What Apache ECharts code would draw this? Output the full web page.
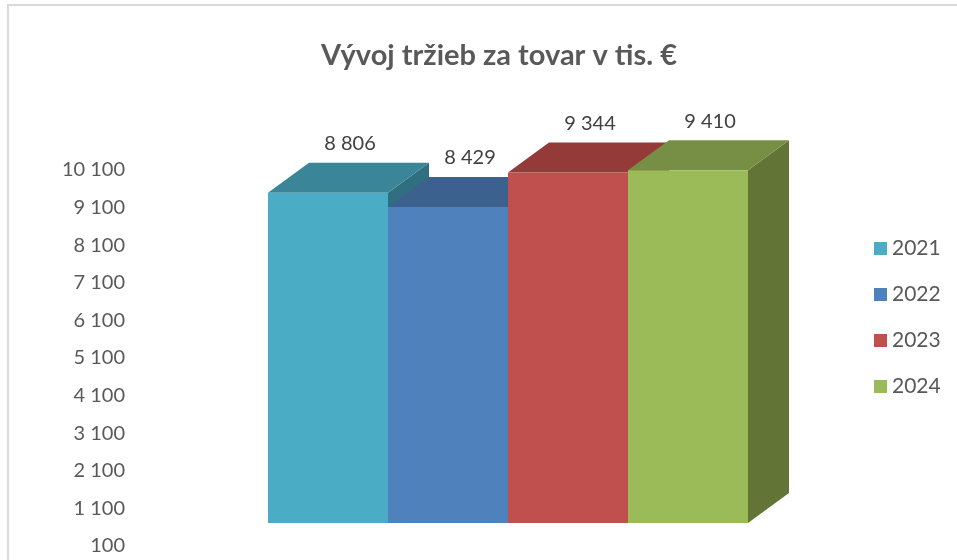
<!DOCTYPE html>
<html lang="sk">
<head>
<meta charset="UTF-8">
<title>Vývoj tržieb</title>
<script src="https://cdn.jsdelivr.net/npm/echarts@6.0.0/dist/echarts.min.js"></script>
<style>
  body { margin: 0; padding: 0; background: #fff; }
  #chart { width: 957px; height: 560px; }
</style>
</head>
<body>
<div id="chart"></div>
<script>
// data
var years = ['2021', '2022', '2023', '2024'];
var sales = [8806, 8429, 9344, 9410];
var frontColors = ['#4BACC6', '#4F81BD', '#C0504D', '#9BBB59'];
var topColors = ['#3A8597', '#3C618E', '#943B39', '#768F45'];
var sideColors = ['#306F80', '#33537A', '#7D3230', '#627537'];
// value axis as drawn on the left
var tickMin = 100;
var tickMax = 10100;
var tickStep = 1000;

var depthX = 41, depthY = 30;   // 3d depth of the columns

function fmt(v) {
  return String(v).replace(/\B(?=(\d{3})+(?!\d))/g, ' ');
}

function renderBar(params, api) {
  var i = params.seriesIndex;
  var top = api.coord([api.value(0), api.value(1)]);
  var base = api.coord([api.value(0), 0]);
  var w = api.size([1, 0])[0];
  var x0 = top[0] - w / 2, x1 = top[0] + w / 2;
  var yt = top[1], yb = base[1];
  return {
    type: 'group',
    children: [
      { type: 'polygon', shape: { points: [[x1, yt], [x1 + depthX, yt - depthY], [x1 + depthX, yb - depthY], [x1, yb]] },
        style: { fill: sideColors[i] } },
      { type: 'polygon', shape: { points: [[x0, yt], [x0 + depthX, yt - depthY], [x1 + depthX, yt - depthY], [x1, yt]] },
        style: { fill: topColors[i] } },
      { type: 'rect', shape: { x: x0, y: yt, width: w, height: yb - yt },
        style: { fill: frontColors[i] } },
      { type: 'text', x: top[0] + 22, y: yt - depthY - 19,
        style: { text: fmt(api.value(1)), fill: '#404040', font: '20px Lato, sans-serif',
                 align: 'center', verticalAlign: 'middle' } }
    ]
  };
}

var chart = echarts.init(document.getElementById('chart'));

var series = years.map(function (y, i) {
  return {
    name: y,
    type: 'custom',
    xAxisIndex: 1,
    yAxisIndex: 1,
    clip: false,
    itemStyle: { color: frontColors[i] },
    renderItem: renderBar,
    data: [[i, sales[i]]]
  };
});

chart.setOption({
  animation: false,
  backgroundColor: '#fff',
  title: {
    text: 'Vývoj tržieb za tovar v tis. €',
    left: 494,
    textAlign: 'center',
    top: 36,
    textStyle: { fontFamily: 'Lato, sans-serif', fontSize: 29, fontWeight: 'bold', color: '#595959' }
  },
  graphic: [{
    type: 'rect',
    shape: { x: 8, y: 5, width: 960, height: 570 },
    style: { fill: 'none', stroke: '#D9D9D9', lineWidth: 2 },
    silent: true
  }],
  legend: {
    orient: 'vertical',
    left: 869,
    top: 233,
    icon: 'rect',
    itemWidth: 13,
    itemHeight: 13,
    itemGap: 25,
    data: years,
    textStyle: { fontFamily: 'Lato, sans-serif', fontSize: 21, color: '#595959' }
  },
  grid: [
    { left: 133, top: 170, width: 100, bottom: 14 },
    { left: 268, right: 209, top: 148, bottom: 37 }
  ],
  xAxis: [
    { gridIndex: 0, type: 'category', data: [''], show: false },
    { gridIndex: 1, type: 'category', data: years, show: false }
  ],
  yAxis: [
    {
      gridIndex: 0, type: 'value', min: tickMin, max: tickMax, interval: tickStep,
      axisLine: { show: false }, axisTick: { show: false }, splitLine: { show: false },
      axisLabel: { formatter: fmt, margin: 8, fontFamily: 'Lato, sans-serif', fontSize: 20, color: '#595959' }
    },
    { gridIndex: 1, type: 'value', min: 0, max: 10000, show: false }
  ],
  series: series
});
</script>
</body>
</html>
